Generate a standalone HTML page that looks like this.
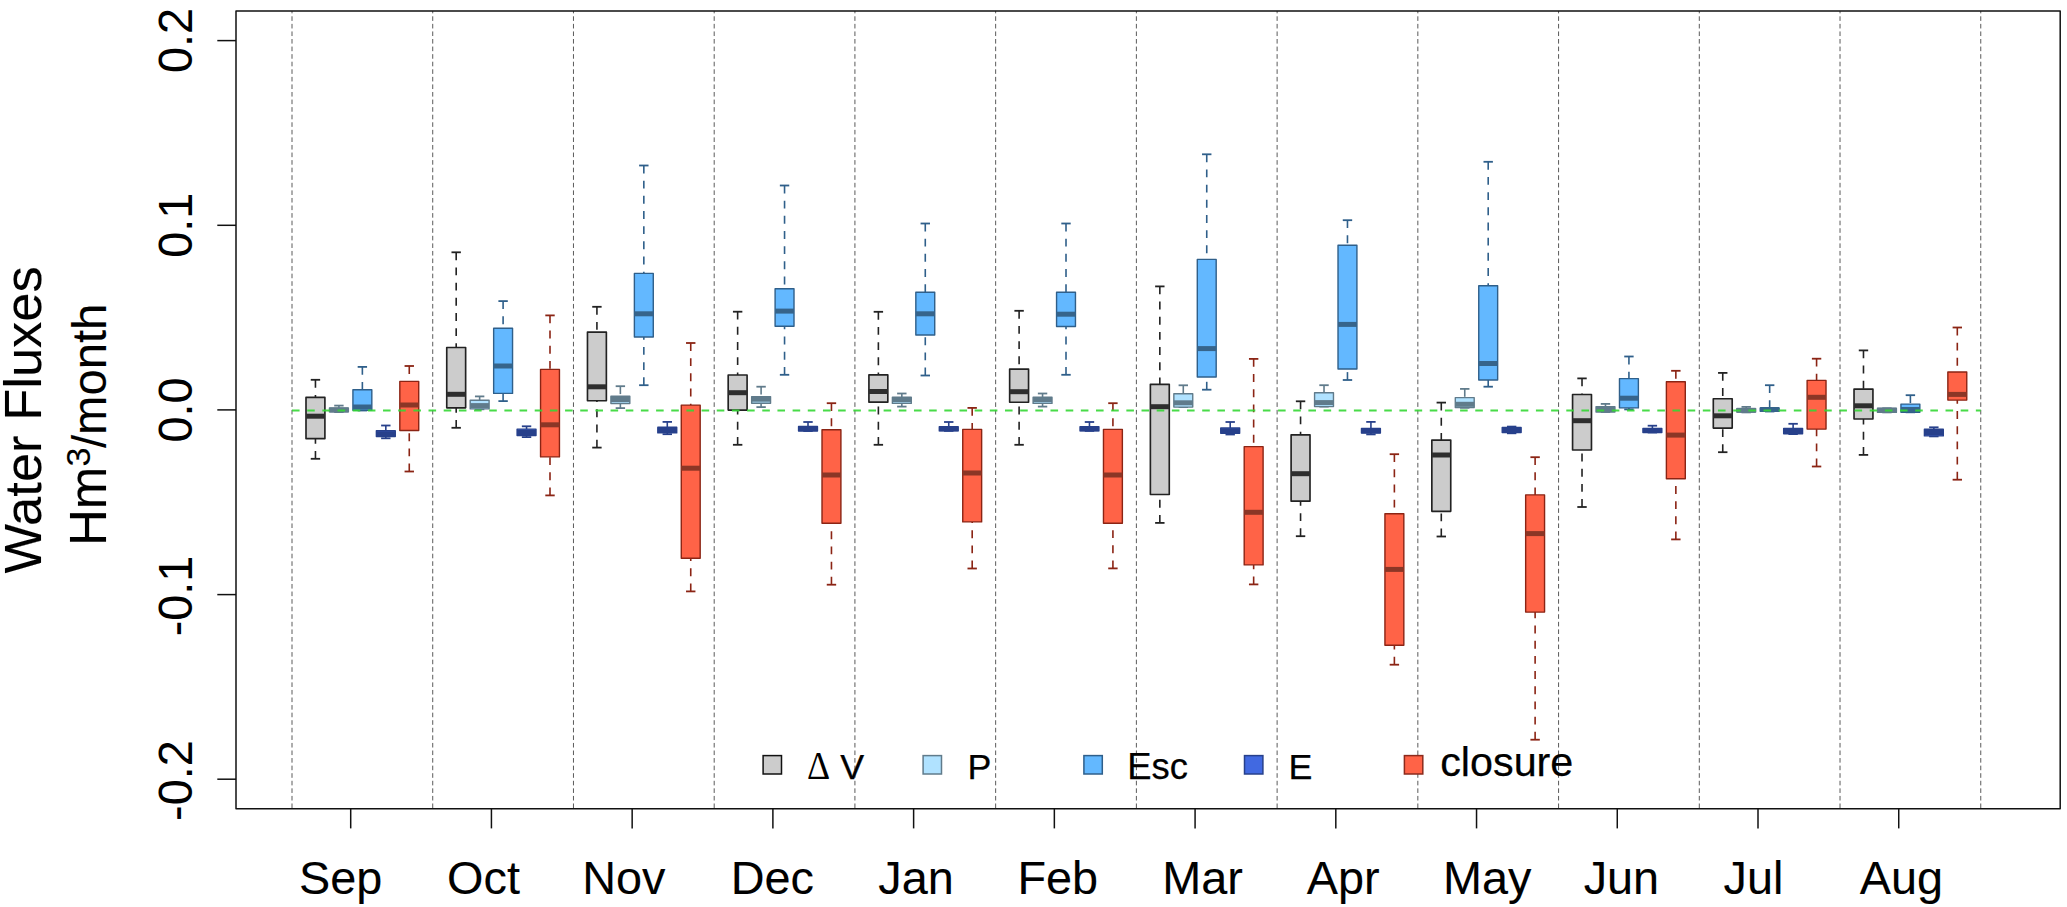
<!DOCTYPE html>
<html lang="en"><head><meta charset="utf-8"><title>Water Fluxes boxplot</title>
<style>html,body{margin:0;padding:0;background:#fff}svg{display:block}</style></head>
<body>
<svg width="2067" height="907" viewBox="0 0 2067 907" font-family="'Liberation Sans', Arial, sans-serif" fill="#000">
<rect width="2067" height="907" fill="#fff"/>
<g stroke="#5a5a5a" stroke-width="1" stroke-dasharray="4.6 2.969" stroke-dashoffset="2.269" fill="none">
<line x1="292.00" y1="11.0" x2="292.00" y2="808.7"/>
<line x1="432.73" y1="11.0" x2="432.73" y2="808.7"/>
<line x1="573.46" y1="11.0" x2="573.46" y2="808.7"/>
<line x1="714.19" y1="11.0" x2="714.19" y2="808.7"/>
<line x1="854.92" y1="11.0" x2="854.92" y2="808.7"/>
<line x1="995.65" y1="11.0" x2="995.65" y2="808.7"/>
<line x1="1136.38" y1="11.0" x2="1136.38" y2="808.7"/>
<line x1="1277.11" y1="11.0" x2="1277.11" y2="808.7"/>
<line x1="1417.84" y1="11.0" x2="1417.84" y2="808.7"/>
<line x1="1558.57" y1="11.0" x2="1558.57" y2="808.7"/>
<line x1="1699.30" y1="11.0" x2="1699.30" y2="808.7"/>
<line x1="1840.03" y1="11.0" x2="1840.03" y2="808.7"/>
<line x1="1980.76" y1="11.0" x2="1980.76" y2="808.7"/>
</g>
<g stroke="#222222" stroke-width="1.6" fill="none">
<line x1="315.45" y1="379.8" x2="315.45" y2="397.4" stroke-dasharray="7.9 7.27"/>
<line x1="315.45" y1="458.8" x2="315.45" y2="438.7" stroke-dasharray="7.9 7.27"/>
<line x1="310.75" y1="379.8" x2="320.15" y2="379.8" stroke-width="1.8"/>
<line x1="310.75" y1="458.8" x2="320.15" y2="458.8" stroke-width="1.8"/>
<rect x="306.00" y="397.4" width="18.9" height="41.30" fill="#cccccc" stroke-width="1.65" stroke-linejoin="round"/>
<line x1="306.00" y1="416.2" x2="324.90" y2="416.2" stroke="#2e2e2e" stroke-width="5"/>
</g>
<g stroke="#607b8b" stroke-width="1.6" fill="none">
<line x1="338.91" y1="405.6" x2="338.91" y2="407.9" stroke-dasharray="7.9 7.27"/>
<line x1="334.21" y1="405.6" x2="343.61" y2="405.6" stroke-width="1.8"/>
<line x1="334.21" y1="412.1" x2="343.61" y2="412.1" stroke-width="1.8"/>
<rect x="329.46" y="407.9" width="18.9" height="4.00" fill="#b0e2ff" stroke-width="1.4" stroke-linejoin="round"/>
<line x1="329.46" y1="410" x2="348.36" y2="410" stroke="#607b8b" stroke-width="5"/>
</g>
<g stroke="#2f5f8a" stroke-width="1.6" fill="none">
<line x1="362.37" y1="366.9" x2="362.37" y2="389.8" stroke-dasharray="7.9 7.27"/>
<line x1="357.67" y1="366.9" x2="367.06" y2="366.9" stroke-width="1.8"/>
<line x1="357.67" y1="410.5" x2="367.06" y2="410.5" stroke-width="1.8"/>
<rect x="352.92" y="389.8" width="18.9" height="20.50" fill="#63b8ff" stroke-width="1.4" stroke-linejoin="round"/>
<line x1="352.92" y1="407" x2="371.81" y2="407" stroke="#36648b" stroke-width="5"/>
</g>
<g stroke="#27408b" stroke-width="1.6" fill="none">
<line x1="385.82" y1="425.5" x2="385.82" y2="430.8" stroke-dasharray="7.9 7.27"/>
<line x1="385.82" y1="438.3" x2="385.82" y2="436.5" stroke-dasharray="7.9 7.27"/>
<line x1="381.12" y1="425.5" x2="390.52" y2="425.5" stroke-width="1.8"/>
<line x1="381.12" y1="438.3" x2="390.52" y2="438.3" stroke-width="1.8"/>
<rect x="376.37" y="430.8" width="18.9" height="5.70" fill="#4169e1" stroke-width="1.4" stroke-linejoin="round"/>
<line x1="376.37" y1="433.8" x2="395.27" y2="433.8" stroke="#27408b" stroke-width="5"/>
</g>
<g stroke="#8b2414" stroke-width="1.6" fill="none">
<line x1="409.27" y1="366" x2="409.27" y2="381.4" stroke-dasharray="7.9 7.27"/>
<line x1="409.27" y1="471.5" x2="409.27" y2="430.5" stroke-dasharray="7.9 7.27"/>
<line x1="404.57" y1="366" x2="413.97" y2="366" stroke-width="1.8"/>
<line x1="404.57" y1="471.5" x2="413.97" y2="471.5" stroke-width="1.8"/>
<rect x="399.82" y="381.4" width="18.9" height="49.10" fill="#ff6347" stroke-width="1.4" stroke-linejoin="round"/>
<line x1="399.82" y1="405" x2="418.72" y2="405" stroke="#8b3626" stroke-width="5"/>
</g>
<g stroke="#222222" stroke-width="1.6" fill="none">
<line x1="456.19" y1="252.3" x2="456.19" y2="347.5" stroke-dasharray="7.9 7.27"/>
<line x1="456.19" y1="427.8" x2="456.19" y2="407.8" stroke-dasharray="7.9 7.27"/>
<line x1="451.49" y1="252.3" x2="460.88" y2="252.3" stroke-width="1.8"/>
<line x1="451.49" y1="427.8" x2="460.88" y2="427.8" stroke-width="1.8"/>
<rect x="446.74" y="347.5" width="18.9" height="60.30" fill="#cccccc" stroke-width="1.65" stroke-linejoin="round"/>
<line x1="446.74" y1="394.3" x2="465.63" y2="394.3" stroke="#2e2e2e" stroke-width="5"/>
</g>
<g stroke="#607b8b" stroke-width="1.6" fill="none">
<line x1="479.64" y1="396.4" x2="479.64" y2="400.2" stroke-dasharray="7.9 7.27"/>
<line x1="479.64" y1="409.3" x2="479.64" y2="408.9" stroke-dasharray="7.9 7.27"/>
<line x1="474.94" y1="396.4" x2="484.34" y2="396.4" stroke-width="1.8"/>
<line x1="474.94" y1="409.3" x2="484.34" y2="409.3" stroke-width="1.8"/>
<rect x="470.19" y="400.2" width="18.9" height="8.70" fill="#b0e2ff" stroke-width="1.4" stroke-linejoin="round"/>
<line x1="470.19" y1="405.6" x2="489.09" y2="405.6" stroke="#607b8b" stroke-width="5"/>
</g>
<g stroke="#2f5f8a" stroke-width="1.6" fill="none">
<line x1="503.10" y1="301.1" x2="503.10" y2="328.3" stroke-dasharray="7.9 7.27"/>
<line x1="503.10" y1="401.1" x2="503.10" y2="393.4" stroke-dasharray="7.9 7.27"/>
<line x1="498.40" y1="301.1" x2="507.80" y2="301.1" stroke-width="1.8"/>
<line x1="498.40" y1="401.1" x2="507.80" y2="401.1" stroke-width="1.8"/>
<rect x="493.65" y="328.3" width="18.9" height="65.10" fill="#63b8ff" stroke-width="1.4" stroke-linejoin="round"/>
<line x1="493.65" y1="366" x2="512.55" y2="366" stroke="#36648b" stroke-width="5"/>
</g>
<g stroke="#27408b" stroke-width="1.6" fill="none">
<line x1="526.55" y1="426.3" x2="526.55" y2="429.1" stroke-dasharray="7.9 7.27"/>
<line x1="526.55" y1="437.1" x2="526.55" y2="435.6" stroke-dasharray="7.9 7.27"/>
<line x1="521.85" y1="426.3" x2="531.25" y2="426.3" stroke-width="1.8"/>
<line x1="521.85" y1="437.1" x2="531.25" y2="437.1" stroke-width="1.8"/>
<rect x="517.10" y="429.1" width="18.9" height="6.50" fill="#4169e1" stroke-width="1.4" stroke-linejoin="round"/>
<line x1="517.10" y1="432.5" x2="536.00" y2="432.5" stroke="#27408b" stroke-width="5"/>
</g>
<g stroke="#8b2414" stroke-width="1.6" fill="none">
<line x1="550.00" y1="315.4" x2="550.00" y2="369.4" stroke-dasharray="7.9 7.27"/>
<line x1="550.00" y1="495.4" x2="550.00" y2="456.9" stroke-dasharray="7.9 7.27"/>
<line x1="545.30" y1="315.4" x2="554.71" y2="315.4" stroke-width="1.8"/>
<line x1="545.30" y1="495.4" x2="554.71" y2="495.4" stroke-width="1.8"/>
<rect x="540.55" y="369.4" width="18.9" height="87.50" fill="#ff6347" stroke-width="1.4" stroke-linejoin="round"/>
<line x1="540.55" y1="424.8" x2="559.46" y2="424.8" stroke="#8b3626" stroke-width="5"/>
</g>
<g stroke="#222222" stroke-width="1.6" fill="none">
<line x1="596.92" y1="306.8" x2="596.92" y2="332.1" stroke-dasharray="7.9 7.27"/>
<line x1="596.92" y1="447.6" x2="596.92" y2="400.7" stroke-dasharray="7.9 7.27"/>
<line x1="592.22" y1="306.8" x2="601.62" y2="306.8" stroke-width="1.8"/>
<line x1="592.22" y1="447.6" x2="601.62" y2="447.6" stroke-width="1.8"/>
<rect x="587.47" y="332.1" width="18.9" height="68.60" fill="#cccccc" stroke-width="1.65" stroke-linejoin="round"/>
<line x1="587.47" y1="386.8" x2="606.37" y2="386.8" stroke="#2e2e2e" stroke-width="5"/>
</g>
<g stroke="#607b8b" stroke-width="1.6" fill="none">
<line x1="620.37" y1="386.2" x2="620.37" y2="396.2" stroke-dasharray="7.9 7.27"/>
<line x1="620.37" y1="408.1" x2="620.37" y2="403.5" stroke-dasharray="7.9 7.27"/>
<line x1="615.67" y1="386.2" x2="625.07" y2="386.2" stroke-width="1.8"/>
<line x1="615.67" y1="408.1" x2="625.07" y2="408.1" stroke-width="1.8"/>
<rect x="610.92" y="396.2" width="18.9" height="7.30" fill="#b0e2ff" stroke-width="1.4" stroke-linejoin="round"/>
<line x1="610.92" y1="399.5" x2="629.82" y2="399.5" stroke="#607b8b" stroke-width="5"/>
</g>
<g stroke="#2f5f8a" stroke-width="1.6" fill="none">
<line x1="643.83" y1="165.5" x2="643.83" y2="273.4" stroke-dasharray="7.9 7.27"/>
<line x1="643.83" y1="385.2" x2="643.83" y2="337" stroke-dasharray="7.9 7.27"/>
<line x1="639.12" y1="165.5" x2="648.53" y2="165.5" stroke-width="1.8"/>
<line x1="639.12" y1="385.2" x2="648.53" y2="385.2" stroke-width="1.8"/>
<rect x="634.38" y="273.4" width="18.9" height="63.60" fill="#63b8ff" stroke-width="1.4" stroke-linejoin="round"/>
<line x1="634.38" y1="313.8" x2="653.28" y2="313.8" stroke="#36648b" stroke-width="5"/>
</g>
<g stroke="#27408b" stroke-width="1.6" fill="none">
<line x1="667.28" y1="421.9" x2="667.28" y2="427.3" stroke-dasharray="7.9 7.27"/>
<line x1="667.28" y1="434.2" x2="667.28" y2="432.9" stroke-dasharray="7.9 7.27"/>
<line x1="662.58" y1="421.9" x2="671.98" y2="421.9" stroke-width="1.8"/>
<line x1="662.58" y1="434.2" x2="671.98" y2="434.2" stroke-width="1.8"/>
<rect x="657.83" y="427.3" width="18.9" height="5.60" fill="#4169e1" stroke-width="1.4" stroke-linejoin="round"/>
<line x1="657.83" y1="430.5" x2="676.73" y2="430.5" stroke="#27408b" stroke-width="5"/>
</g>
<g stroke="#8b2414" stroke-width="1.6" fill="none">
<line x1="690.74" y1="343" x2="690.74" y2="405.1" stroke-dasharray="7.9 7.27"/>
<line x1="690.74" y1="591.4" x2="690.74" y2="558.3" stroke-dasharray="7.9 7.27"/>
<line x1="686.03" y1="343" x2="695.44" y2="343" stroke-width="1.8"/>
<line x1="686.03" y1="591.4" x2="695.44" y2="591.4" stroke-width="1.8"/>
<rect x="681.28" y="405.1" width="18.9" height="153.20" fill="#ff6347" stroke-width="1.4" stroke-linejoin="round"/>
<line x1="681.28" y1="468.2" x2="700.19" y2="468.2" stroke="#8b3626" stroke-width="5"/>
</g>
<g stroke="#222222" stroke-width="1.6" fill="none">
<line x1="737.64" y1="311.7" x2="737.64" y2="375" stroke-dasharray="7.9 7.27"/>
<line x1="737.64" y1="444.8" x2="737.64" y2="410.1" stroke-dasharray="7.9 7.27"/>
<line x1="732.94" y1="311.7" x2="742.35" y2="311.7" stroke-width="1.8"/>
<line x1="732.94" y1="444.8" x2="742.35" y2="444.8" stroke-width="1.8"/>
<rect x="728.19" y="375" width="18.9" height="35.10" fill="#cccccc" stroke-width="1.65" stroke-linejoin="round"/>
<line x1="728.19" y1="392.7" x2="747.10" y2="392.7" stroke="#2e2e2e" stroke-width="5"/>
</g>
<g stroke="#607b8b" stroke-width="1.6" fill="none">
<line x1="761.10" y1="386.7" x2="761.10" y2="396.6" stroke-dasharray="7.9 7.27"/>
<line x1="761.10" y1="407.1" x2="761.10" y2="403.2" stroke-dasharray="7.9 7.27"/>
<line x1="756.40" y1="386.7" x2="765.80" y2="386.7" stroke-width="1.8"/>
<line x1="756.40" y1="407.1" x2="765.80" y2="407.1" stroke-width="1.8"/>
<rect x="751.65" y="396.6" width="18.9" height="6.60" fill="#b0e2ff" stroke-width="1.4" stroke-linejoin="round"/>
<line x1="751.65" y1="399.2" x2="770.55" y2="399.2" stroke="#607b8b" stroke-width="5"/>
</g>
<g stroke="#2f5f8a" stroke-width="1.6" fill="none">
<line x1="784.55" y1="185.5" x2="784.55" y2="288.7" stroke-dasharray="7.9 7.27"/>
<line x1="784.55" y1="374.8" x2="784.55" y2="326.3" stroke-dasharray="7.9 7.27"/>
<line x1="779.85" y1="185.5" x2="789.25" y2="185.5" stroke-width="1.8"/>
<line x1="779.85" y1="374.8" x2="789.25" y2="374.8" stroke-width="1.8"/>
<rect x="775.10" y="288.7" width="18.9" height="37.60" fill="#63b8ff" stroke-width="1.4" stroke-linejoin="round"/>
<line x1="775.10" y1="311.1" x2="794.00" y2="311.1" stroke="#36648b" stroke-width="5"/>
</g>
<g stroke="#27408b" stroke-width="1.6" fill="none">
<line x1="808.01" y1="422" x2="808.01" y2="426.4" stroke-dasharray="7.9 7.27"/>
<line x1="803.31" y1="422" x2="812.71" y2="422" stroke-width="1.8"/>
<line x1="803.31" y1="431" x2="812.71" y2="431" stroke-width="1.8"/>
<rect x="798.56" y="426.4" width="18.9" height="4.60" fill="#4169e1" stroke-width="1.4" stroke-linejoin="round"/>
<line x1="798.56" y1="428.6" x2="817.46" y2="428.6" stroke="#27408b" stroke-width="5"/>
</g>
<g stroke="#8b2414" stroke-width="1.6" fill="none">
<line x1="831.46" y1="403.2" x2="831.46" y2="429.7" stroke-dasharray="7.9 7.27"/>
<line x1="831.46" y1="584.7" x2="831.46" y2="523.2" stroke-dasharray="7.9 7.27"/>
<line x1="826.76" y1="403.2" x2="836.16" y2="403.2" stroke-width="1.8"/>
<line x1="826.76" y1="584.7" x2="836.16" y2="584.7" stroke-width="1.8"/>
<rect x="822.01" y="429.7" width="18.9" height="93.50" fill="#ff6347" stroke-width="1.4" stroke-linejoin="round"/>
<line x1="822.01" y1="475" x2="840.91" y2="475" stroke="#8b3626" stroke-width="5"/>
</g>
<g stroke="#222222" stroke-width="1.6" fill="none">
<line x1="878.38" y1="311.8" x2="878.38" y2="374.9" stroke-dasharray="7.9 7.27"/>
<line x1="878.38" y1="444.8" x2="878.38" y2="402.2" stroke-dasharray="7.9 7.27"/>
<line x1="873.67" y1="311.8" x2="883.08" y2="311.8" stroke-width="1.8"/>
<line x1="873.67" y1="444.8" x2="883.08" y2="444.8" stroke-width="1.8"/>
<rect x="868.92" y="374.9" width="18.9" height="27.30" fill="#cccccc" stroke-width="1.65" stroke-linejoin="round"/>
<line x1="868.92" y1="391.5" x2="887.83" y2="391.5" stroke="#2e2e2e" stroke-width="5"/>
</g>
<g stroke="#607b8b" stroke-width="1.6" fill="none">
<line x1="901.83" y1="393.5" x2="901.83" y2="397.2" stroke-dasharray="7.9 7.27"/>
<line x1="901.83" y1="406.6" x2="901.83" y2="403.4" stroke-dasharray="7.9 7.27"/>
<line x1="897.13" y1="393.5" x2="906.53" y2="393.5" stroke-width="1.8"/>
<line x1="897.13" y1="406.6" x2="906.53" y2="406.6" stroke-width="1.8"/>
<rect x="892.38" y="397.2" width="18.9" height="6.20" fill="#b0e2ff" stroke-width="1.4" stroke-linejoin="round"/>
<line x1="892.38" y1="399.7" x2="911.28" y2="399.7" stroke="#607b8b" stroke-width="5"/>
</g>
<g stroke="#2f5f8a" stroke-width="1.6" fill="none">
<line x1="925.28" y1="223.5" x2="925.28" y2="292.3" stroke-dasharray="7.9 7.27"/>
<line x1="925.28" y1="375.5" x2="925.28" y2="335" stroke-dasharray="7.9 7.27"/>
<line x1="920.58" y1="223.5" x2="929.99" y2="223.5" stroke-width="1.8"/>
<line x1="920.58" y1="375.5" x2="929.99" y2="375.5" stroke-width="1.8"/>
<rect x="915.83" y="292.3" width="18.9" height="42.70" fill="#63b8ff" stroke-width="1.4" stroke-linejoin="round"/>
<line x1="915.83" y1="313.8" x2="934.74" y2="313.8" stroke="#36648b" stroke-width="5"/>
</g>
<g stroke="#27408b" stroke-width="1.6" fill="none">
<line x1="948.74" y1="422" x2="948.74" y2="426.7" stroke-dasharray="7.9 7.27"/>
<line x1="944.04" y1="422" x2="953.44" y2="422" stroke-width="1.8"/>
<line x1="944.04" y1="430.9" x2="953.44" y2="430.9" stroke-width="1.8"/>
<rect x="939.29" y="426.7" width="18.9" height="4.20" fill="#4169e1" stroke-width="1.4" stroke-linejoin="round"/>
<line x1="939.29" y1="428.8" x2="958.19" y2="428.8" stroke="#27408b" stroke-width="5"/>
</g>
<g stroke="#8b2414" stroke-width="1.6" fill="none">
<line x1="972.19" y1="407.9" x2="972.19" y2="429.4" stroke-dasharray="7.9 7.27"/>
<line x1="972.19" y1="568.5" x2="972.19" y2="521.9" stroke-dasharray="7.9 7.27"/>
<line x1="967.49" y1="407.9" x2="976.89" y2="407.9" stroke-width="1.8"/>
<line x1="967.49" y1="568.5" x2="976.89" y2="568.5" stroke-width="1.8"/>
<rect x="962.74" y="429.4" width="18.9" height="92.50" fill="#ff6347" stroke-width="1.4" stroke-linejoin="round"/>
<line x1="962.74" y1="473" x2="981.64" y2="473" stroke="#8b3626" stroke-width="5"/>
</g>
<g stroke="#222222" stroke-width="1.6" fill="none">
<line x1="1019.11" y1="310.8" x2="1019.11" y2="369.1" stroke-dasharray="7.9 7.27"/>
<line x1="1019.11" y1="444.8" x2="1019.11" y2="402.2" stroke-dasharray="7.9 7.27"/>
<line x1="1014.40" y1="310.8" x2="1023.81" y2="310.8" stroke-width="1.8"/>
<line x1="1014.40" y1="444.8" x2="1023.81" y2="444.8" stroke-width="1.8"/>
<rect x="1009.65" y="369.1" width="18.9" height="33.10" fill="#cccccc" stroke-width="1.65" stroke-linejoin="round"/>
<line x1="1009.65" y1="391.7" x2="1028.56" y2="391.7" stroke="#2e2e2e" stroke-width="5"/>
</g>
<g stroke="#607b8b" stroke-width="1.6" fill="none">
<line x1="1042.56" y1="393.5" x2="1042.56" y2="397.2" stroke-dasharray="7.9 7.27"/>
<line x1="1042.56" y1="406.6" x2="1042.56" y2="403.4" stroke-dasharray="7.9 7.27"/>
<line x1="1037.86" y1="393.5" x2="1047.26" y2="393.5" stroke-width="1.8"/>
<line x1="1037.86" y1="406.6" x2="1047.26" y2="406.6" stroke-width="1.8"/>
<rect x="1033.11" y="397.2" width="18.9" height="6.20" fill="#b0e2ff" stroke-width="1.4" stroke-linejoin="round"/>
<line x1="1033.11" y1="399.7" x2="1052.01" y2="399.7" stroke="#607b8b" stroke-width="5"/>
</g>
<g stroke="#2f5f8a" stroke-width="1.6" fill="none">
<line x1="1066.01" y1="223.5" x2="1066.01" y2="292.3" stroke-dasharray="7.9 7.27"/>
<line x1="1066.01" y1="374.8" x2="1066.01" y2="326.5" stroke-dasharray="7.9 7.27"/>
<line x1="1061.31" y1="223.5" x2="1070.71" y2="223.5" stroke-width="1.8"/>
<line x1="1061.31" y1="374.8" x2="1070.71" y2="374.8" stroke-width="1.8"/>
<rect x="1056.56" y="292.3" width="18.9" height="34.20" fill="#63b8ff" stroke-width="1.4" stroke-linejoin="round"/>
<line x1="1056.56" y1="314.2" x2="1075.46" y2="314.2" stroke="#36648b" stroke-width="5"/>
</g>
<g stroke="#27408b" stroke-width="1.6" fill="none">
<line x1="1089.47" y1="422" x2="1089.47" y2="426.7" stroke-dasharray="7.9 7.27"/>
<line x1="1084.77" y1="422" x2="1094.17" y2="422" stroke-width="1.8"/>
<line x1="1084.77" y1="430.9" x2="1094.17" y2="430.9" stroke-width="1.8"/>
<rect x="1080.02" y="426.7" width="18.9" height="4.20" fill="#4169e1" stroke-width="1.4" stroke-linejoin="round"/>
<line x1="1080.02" y1="428.8" x2="1098.92" y2="428.8" stroke="#27408b" stroke-width="5"/>
</g>
<g stroke="#8b2414" stroke-width="1.6" fill="none">
<line x1="1112.92" y1="403.2" x2="1112.92" y2="429.4" stroke-dasharray="7.9 7.27"/>
<line x1="1112.92" y1="568.4" x2="1112.92" y2="523.2" stroke-dasharray="7.9 7.27"/>
<line x1="1108.22" y1="403.2" x2="1117.62" y2="403.2" stroke-width="1.8"/>
<line x1="1108.22" y1="568.4" x2="1117.62" y2="568.4" stroke-width="1.8"/>
<rect x="1103.47" y="429.4" width="18.9" height="93.80" fill="#ff6347" stroke-width="1.4" stroke-linejoin="round"/>
<line x1="1103.47" y1="475" x2="1122.38" y2="475" stroke="#8b3626" stroke-width="5"/>
</g>
<g stroke="#222222" stroke-width="1.6" fill="none">
<line x1="1159.83" y1="286.4" x2="1159.83" y2="384.3" stroke-dasharray="7.9 7.27"/>
<line x1="1159.83" y1="522.9" x2="1159.83" y2="494.5" stroke-dasharray="7.9 7.27"/>
<line x1="1155.13" y1="286.4" x2="1164.53" y2="286.4" stroke-width="1.8"/>
<line x1="1155.13" y1="522.9" x2="1164.53" y2="522.9" stroke-width="1.8"/>
<rect x="1150.38" y="384.3" width="18.9" height="110.20" fill="#cccccc" stroke-width="1.65" stroke-linejoin="round"/>
<line x1="1150.38" y1="406.7" x2="1169.28" y2="406.7" stroke="#2e2e2e" stroke-width="5"/>
</g>
<g stroke="#607b8b" stroke-width="1.6" fill="none">
<line x1="1183.29" y1="385.3" x2="1183.29" y2="393.7" stroke-dasharray="7.9 7.27"/>
<line x1="1178.59" y1="385.3" x2="1187.99" y2="385.3" stroke-width="1.8"/>
<line x1="1178.59" y1="407.1" x2="1187.99" y2="407.1" stroke-width="1.8"/>
<rect x="1173.84" y="393.7" width="18.9" height="13.40" fill="#b0e2ff" stroke-width="1.4" stroke-linejoin="round"/>
<line x1="1173.84" y1="402.8" x2="1192.74" y2="402.8" stroke="#607b8b" stroke-width="5"/>
</g>
<g stroke="#2f5f8a" stroke-width="1.6" fill="none">
<line x1="1206.74" y1="154.3" x2="1206.74" y2="259.4" stroke-dasharray="7.9 7.27"/>
<line x1="1206.74" y1="389.7" x2="1206.74" y2="377" stroke-dasharray="7.9 7.27"/>
<line x1="1202.04" y1="154.3" x2="1211.44" y2="154.3" stroke-width="1.8"/>
<line x1="1202.04" y1="389.7" x2="1211.44" y2="389.7" stroke-width="1.8"/>
<rect x="1197.29" y="259.4" width="18.9" height="117.60" fill="#63b8ff" stroke-width="1.4" stroke-linejoin="round"/>
<line x1="1197.29" y1="348.6" x2="1216.19" y2="348.6" stroke="#36648b" stroke-width="5"/>
</g>
<g stroke="#27408b" stroke-width="1.6" fill="none">
<line x1="1230.20" y1="422" x2="1230.20" y2="428" stroke-dasharray="7.9 7.27"/>
<line x1="1230.20" y1="434.5" x2="1230.20" y2="433.3" stroke-dasharray="7.9 7.27"/>
<line x1="1225.50" y1="422" x2="1234.90" y2="422" stroke-width="1.8"/>
<line x1="1225.50" y1="434.5" x2="1234.90" y2="434.5" stroke-width="1.8"/>
<rect x="1220.75" y="428" width="18.9" height="5.30" fill="#4169e1" stroke-width="1.4" stroke-linejoin="round"/>
<line x1="1220.75" y1="431" x2="1239.65" y2="431" stroke="#27408b" stroke-width="5"/>
</g>
<g stroke="#8b2414" stroke-width="1.6" fill="none">
<line x1="1253.65" y1="358.9" x2="1253.65" y2="446.6" stroke-dasharray="7.9 7.27"/>
<line x1="1253.65" y1="584.4" x2="1253.65" y2="564.9" stroke-dasharray="7.9 7.27"/>
<line x1="1248.95" y1="358.9" x2="1258.36" y2="358.9" stroke-width="1.8"/>
<line x1="1248.95" y1="584.4" x2="1258.36" y2="584.4" stroke-width="1.8"/>
<rect x="1244.20" y="446.6" width="18.9" height="118.30" fill="#ff6347" stroke-width="1.4" stroke-linejoin="round"/>
<line x1="1244.20" y1="512.3" x2="1263.11" y2="512.3" stroke="#8b3626" stroke-width="5"/>
</g>
<g stroke="#222222" stroke-width="1.6" fill="none">
<line x1="1300.56" y1="401.3" x2="1300.56" y2="434.8" stroke-dasharray="7.9 7.27"/>
<line x1="1300.56" y1="536.2" x2="1300.56" y2="501.2" stroke-dasharray="7.9 7.27"/>
<line x1="1295.86" y1="401.3" x2="1305.26" y2="401.3" stroke-width="1.8"/>
<line x1="1295.86" y1="536.2" x2="1305.26" y2="536.2" stroke-width="1.8"/>
<rect x="1291.11" y="434.8" width="18.9" height="66.40" fill="#cccccc" stroke-width="1.65" stroke-linejoin="round"/>
<line x1="1291.11" y1="473.7" x2="1310.01" y2="473.7" stroke="#2e2e2e" stroke-width="5"/>
</g>
<g stroke="#607b8b" stroke-width="1.6" fill="none">
<line x1="1324.02" y1="385.2" x2="1324.02" y2="392.7" stroke-dasharray="7.9 7.27"/>
<line x1="1319.32" y1="385.2" x2="1328.72" y2="385.2" stroke-width="1.8"/>
<line x1="1319.32" y1="406.6" x2="1328.72" y2="406.6" stroke-width="1.8"/>
<rect x="1314.57" y="392.7" width="18.9" height="13.90" fill="#b0e2ff" stroke-width="1.4" stroke-linejoin="round"/>
<line x1="1314.57" y1="402.6" x2="1333.47" y2="402.6" stroke="#607b8b" stroke-width="5"/>
</g>
<g stroke="#2f5f8a" stroke-width="1.6" fill="none">
<line x1="1347.47" y1="220.2" x2="1347.47" y2="245.2" stroke-dasharray="7.9 7.27"/>
<line x1="1347.47" y1="380" x2="1347.47" y2="369" stroke-dasharray="7.9 7.27"/>
<line x1="1342.77" y1="220.2" x2="1352.17" y2="220.2" stroke-width="1.8"/>
<line x1="1342.77" y1="380" x2="1352.17" y2="380" stroke-width="1.8"/>
<rect x="1338.02" y="245.2" width="18.9" height="123.80" fill="#63b8ff" stroke-width="1.4" stroke-linejoin="round"/>
<line x1="1338.02" y1="324.4" x2="1356.92" y2="324.4" stroke="#36648b" stroke-width="5"/>
</g>
<g stroke="#27408b" stroke-width="1.6" fill="none">
<line x1="1370.93" y1="421.9" x2="1370.93" y2="428.5" stroke-dasharray="7.9 7.27"/>
<line x1="1370.93" y1="434.4" x2="1370.93" y2="433" stroke-dasharray="7.9 7.27"/>
<line x1="1366.23" y1="421.9" x2="1375.63" y2="421.9" stroke-width="1.8"/>
<line x1="1366.23" y1="434.4" x2="1375.63" y2="434.4" stroke-width="1.8"/>
<rect x="1361.48" y="428.5" width="18.9" height="4.50" fill="#4169e1" stroke-width="1.4" stroke-linejoin="round"/>
<line x1="1361.48" y1="430.8" x2="1380.38" y2="430.8" stroke="#27408b" stroke-width="5"/>
</g>
<g stroke="#8b2414" stroke-width="1.6" fill="none">
<line x1="1394.38" y1="454.2" x2="1394.38" y2="513.8" stroke-dasharray="7.9 7.27"/>
<line x1="1394.38" y1="664.7" x2="1394.38" y2="645.2" stroke-dasharray="7.9 7.27"/>
<line x1="1389.68" y1="454.2" x2="1399.09" y2="454.2" stroke-width="1.8"/>
<line x1="1389.68" y1="664.7" x2="1399.09" y2="664.7" stroke-width="1.8"/>
<rect x="1384.93" y="513.8" width="18.9" height="131.40" fill="#ff6347" stroke-width="1.4" stroke-linejoin="round"/>
<line x1="1384.93" y1="569.4" x2="1403.84" y2="569.4" stroke="#8b3626" stroke-width="5"/>
</g>
<g stroke="#222222" stroke-width="1.6" fill="none">
<line x1="1441.29" y1="402.6" x2="1441.29" y2="440.1" stroke-dasharray="7.9 7.27"/>
<line x1="1441.29" y1="536.5" x2="1441.29" y2="511.3" stroke-dasharray="7.9 7.27"/>
<line x1="1436.59" y1="402.6" x2="1445.99" y2="402.6" stroke-width="1.8"/>
<line x1="1436.59" y1="536.5" x2="1445.99" y2="536.5" stroke-width="1.8"/>
<rect x="1431.84" y="440.1" width="18.9" height="71.20" fill="#cccccc" stroke-width="1.65" stroke-linejoin="round"/>
<line x1="1431.84" y1="455" x2="1450.74" y2="455" stroke="#2e2e2e" stroke-width="5"/>
</g>
<g stroke="#607b8b" stroke-width="1.6" fill="none">
<line x1="1464.75" y1="388.9" x2="1464.75" y2="397.6" stroke-dasharray="7.9 7.27"/>
<line x1="1464.75" y1="407.8" x2="1464.75" y2="407.5" stroke-dasharray="7.9 7.27"/>
<line x1="1460.05" y1="388.9" x2="1469.45" y2="388.9" stroke-width="1.8"/>
<line x1="1460.05" y1="407.8" x2="1469.45" y2="407.8" stroke-width="1.8"/>
<rect x="1455.30" y="397.6" width="18.9" height="9.90" fill="#b0e2ff" stroke-width="1.4" stroke-linejoin="round"/>
<line x1="1455.30" y1="404.3" x2="1474.20" y2="404.3" stroke="#607b8b" stroke-width="5"/>
</g>
<g stroke="#2f5f8a" stroke-width="1.6" fill="none">
<line x1="1488.20" y1="161.8" x2="1488.20" y2="285.8" stroke-dasharray="7.9 7.27"/>
<line x1="1488.20" y1="386.7" x2="1488.20" y2="380" stroke-dasharray="7.9 7.27"/>
<line x1="1483.50" y1="161.8" x2="1492.90" y2="161.8" stroke-width="1.8"/>
<line x1="1483.50" y1="386.7" x2="1492.90" y2="386.7" stroke-width="1.8"/>
<rect x="1478.75" y="285.8" width="18.9" height="94.20" fill="#63b8ff" stroke-width="1.4" stroke-linejoin="round"/>
<line x1="1478.75" y1="363.5" x2="1497.65" y2="363.5" stroke="#36648b" stroke-width="5"/>
</g>
<g stroke="#27408b" stroke-width="1.6" fill="none">
<line x1="1511.66" y1="426.6" x2="1511.66" y2="427.4" stroke-dasharray="7.9 7.27"/>
<line x1="1511.66" y1="433.3" x2="1511.66" y2="432.5" stroke-dasharray="7.9 7.27"/>
<line x1="1506.96" y1="426.6" x2="1516.36" y2="426.6" stroke-width="1.8"/>
<line x1="1506.96" y1="433.3" x2="1516.36" y2="433.3" stroke-width="1.8"/>
<rect x="1502.21" y="427.4" width="18.9" height="5.10" fill="#4169e1" stroke-width="1.4" stroke-linejoin="round"/>
<line x1="1502.21" y1="430" x2="1521.11" y2="430" stroke="#27408b" stroke-width="5"/>
</g>
<g stroke="#8b2414" stroke-width="1.6" fill="none">
<line x1="1535.12" y1="457.2" x2="1535.12" y2="494.9" stroke-dasharray="7.9 7.27"/>
<line x1="1535.12" y1="739.7" x2="1535.12" y2="612.1" stroke-dasharray="7.9 7.27"/>
<line x1="1530.41" y1="457.2" x2="1539.82" y2="457.2" stroke-width="1.8"/>
<line x1="1530.41" y1="739.7" x2="1539.82" y2="739.7" stroke-width="1.8"/>
<rect x="1525.66" y="494.9" width="18.9" height="117.20" fill="#ff6347" stroke-width="1.4" stroke-linejoin="round"/>
<line x1="1525.66" y1="533.6" x2="1544.57" y2="533.6" stroke="#8b3626" stroke-width="5"/>
</g>
<g stroke="#222222" stroke-width="1.6" fill="none">
<line x1="1582.02" y1="378.4" x2="1582.02" y2="394.5" stroke-dasharray="7.9 7.27"/>
<line x1="1582.02" y1="507" x2="1582.02" y2="450" stroke-dasharray="7.9 7.27"/>
<line x1="1577.32" y1="378.4" x2="1586.72" y2="378.4" stroke-width="1.8"/>
<line x1="1577.32" y1="507" x2="1586.72" y2="507" stroke-width="1.8"/>
<rect x="1572.57" y="394.5" width="18.9" height="55.50" fill="#cccccc" stroke-width="1.65" stroke-linejoin="round"/>
<line x1="1572.57" y1="420.7" x2="1591.47" y2="420.7" stroke="#2e2e2e" stroke-width="5"/>
</g>
<g stroke="#607b8b" stroke-width="1.6" fill="none">
<line x1="1605.48" y1="403.9" x2="1605.48" y2="406.8" stroke-dasharray="7.9 7.27"/>
<line x1="1600.78" y1="403.9" x2="1610.18" y2="403.9" stroke-width="1.8"/>
<line x1="1600.78" y1="412.1" x2="1610.18" y2="412.1" stroke-width="1.8"/>
<rect x="1596.03" y="406.8" width="18.9" height="5.30" fill="#b0e2ff" stroke-width="1.4" stroke-linejoin="round"/>
<line x1="1596.03" y1="409.5" x2="1614.93" y2="409.5" stroke="#607b8b" stroke-width="5"/>
</g>
<g stroke="#2f5f8a" stroke-width="1.6" fill="none">
<line x1="1628.93" y1="356.5" x2="1628.93" y2="378.6" stroke-dasharray="7.9 7.27"/>
<line x1="1628.93" y1="409.4" x2="1628.93" y2="407.9" stroke-dasharray="7.9 7.27"/>
<line x1="1624.23" y1="356.5" x2="1633.63" y2="356.5" stroke-width="1.8"/>
<line x1="1624.23" y1="409.4" x2="1633.63" y2="409.4" stroke-width="1.8"/>
<rect x="1619.48" y="378.6" width="18.9" height="29.30" fill="#63b8ff" stroke-width="1.4" stroke-linejoin="round"/>
<line x1="1619.48" y1="398.2" x2="1638.38" y2="398.2" stroke="#36648b" stroke-width="5"/>
</g>
<g stroke="#27408b" stroke-width="1.6" fill="none">
<line x1="1652.39" y1="425.7" x2="1652.39" y2="428.4" stroke-dasharray="7.9 7.27"/>
<line x1="1647.69" y1="425.7" x2="1657.09" y2="425.7" stroke-width="1.8"/>
<line x1="1647.69" y1="432.5" x2="1657.09" y2="432.5" stroke-width="1.8"/>
<rect x="1642.94" y="428.4" width="18.9" height="4.10" fill="#4169e1" stroke-width="1.4" stroke-linejoin="round"/>
<line x1="1642.94" y1="430.5" x2="1661.84" y2="430.5" stroke="#27408b" stroke-width="5"/>
</g>
<g stroke="#8b2414" stroke-width="1.6" fill="none">
<line x1="1675.85" y1="370.8" x2="1675.85" y2="381.7" stroke-dasharray="7.9 7.27"/>
<line x1="1675.85" y1="539.4" x2="1675.85" y2="478.7" stroke-dasharray="7.9 7.27"/>
<line x1="1671.14" y1="370.8" x2="1680.55" y2="370.8" stroke-width="1.8"/>
<line x1="1671.14" y1="539.4" x2="1680.55" y2="539.4" stroke-width="1.8"/>
<rect x="1666.39" y="381.7" width="18.9" height="97.00" fill="#ff6347" stroke-width="1.4" stroke-linejoin="round"/>
<line x1="1666.39" y1="435.1" x2="1685.30" y2="435.1" stroke="#8b3626" stroke-width="5"/>
</g>
<g stroke="#222222" stroke-width="1.6" fill="none">
<line x1="1722.75" y1="372.9" x2="1722.75" y2="398.7" stroke-dasharray="7.9 7.27"/>
<line x1="1722.75" y1="452.2" x2="1722.75" y2="428.1" stroke-dasharray="7.9 7.27"/>
<line x1="1718.05" y1="372.9" x2="1727.45" y2="372.9" stroke-width="1.8"/>
<line x1="1718.05" y1="452.2" x2="1727.45" y2="452.2" stroke-width="1.8"/>
<rect x="1713.30" y="398.7" width="18.9" height="29.40" fill="#cccccc" stroke-width="1.65" stroke-linejoin="round"/>
<line x1="1713.30" y1="415.8" x2="1732.20" y2="415.8" stroke="#2e2e2e" stroke-width="5"/>
</g>
<g stroke="#607b8b" stroke-width="1.6" fill="none">
<line x1="1746.21" y1="406.9" x2="1746.21" y2="408.6" stroke-dasharray="7.9 7.27"/>
<line x1="1741.51" y1="406.9" x2="1750.91" y2="406.9" stroke-width="1.8"/>
<line x1="1741.51" y1="412.4" x2="1750.91" y2="412.4" stroke-width="1.8"/>
<rect x="1736.76" y="408.6" width="18.9" height="3.50" fill="#b0e2ff" stroke-width="1.4" stroke-linejoin="round"/>
<line x1="1736.76" y1="410.3" x2="1755.66" y2="410.3" stroke="#607b8b" stroke-width="5"/>
</g>
<g stroke="#2f5f8a" stroke-width="1.6" fill="none">
<line x1="1769.66" y1="385.2" x2="1769.66" y2="407.9" stroke-dasharray="7.9 7.27"/>
<line x1="1769.66" y1="411.5" x2="1769.66" y2="411.2" stroke-dasharray="7.9 7.27"/>
<line x1="1764.96" y1="385.2" x2="1774.37" y2="385.2" stroke-width="1.8"/>
<line x1="1764.96" y1="411.5" x2="1774.37" y2="411.5" stroke-width="1.8"/>
<rect x="1760.21" y="407.9" width="18.9" height="3.30" fill="#63b8ff" stroke-width="1.4" stroke-linejoin="round"/>
<line x1="1760.21" y1="409.5" x2="1779.12" y2="409.5" stroke="#36648b" stroke-width="5"/>
</g>
<g stroke="#27408b" stroke-width="1.6" fill="none">
<line x1="1793.12" y1="423.8" x2="1793.12" y2="428.4" stroke-dasharray="7.9 7.27"/>
<line x1="1793.12" y1="434.1" x2="1793.12" y2="433.7" stroke-dasharray="7.9 7.27"/>
<line x1="1788.42" y1="423.8" x2="1797.82" y2="423.8" stroke-width="1.8"/>
<line x1="1788.42" y1="434.1" x2="1797.82" y2="434.1" stroke-width="1.8"/>
<rect x="1783.67" y="428.4" width="18.9" height="5.30" fill="#4169e1" stroke-width="1.4" stroke-linejoin="round"/>
<line x1="1783.67" y1="431" x2="1802.57" y2="431" stroke="#27408b" stroke-width="5"/>
</g>
<g stroke="#8b2414" stroke-width="1.6" fill="none">
<line x1="1816.58" y1="358.7" x2="1816.58" y2="380.4" stroke-dasharray="7.9 7.27"/>
<line x1="1816.58" y1="466.5" x2="1816.58" y2="429.1" stroke-dasharray="7.9 7.27"/>
<line x1="1811.88" y1="358.7" x2="1821.28" y2="358.7" stroke-width="1.8"/>
<line x1="1811.88" y1="466.5" x2="1821.28" y2="466.5" stroke-width="1.8"/>
<rect x="1807.12" y="380.4" width="18.9" height="48.70" fill="#ff6347" stroke-width="1.4" stroke-linejoin="round"/>
<line x1="1807.12" y1="397.3" x2="1826.03" y2="397.3" stroke="#8b3626" stroke-width="5"/>
</g>
<g stroke="#222222" stroke-width="1.6" fill="none">
<line x1="1863.48" y1="350.4" x2="1863.48" y2="389.1" stroke-dasharray="7.9 7.27"/>
<line x1="1863.48" y1="454.9" x2="1863.48" y2="419" stroke-dasharray="7.9 7.27"/>
<line x1="1858.78" y1="350.4" x2="1868.18" y2="350.4" stroke-width="1.8"/>
<line x1="1858.78" y1="454.9" x2="1868.18" y2="454.9" stroke-width="1.8"/>
<rect x="1854.03" y="389.1" width="18.9" height="29.90" fill="#cccccc" stroke-width="1.65" stroke-linejoin="round"/>
<line x1="1854.03" y1="405.8" x2="1872.93" y2="405.8" stroke="#2e2e2e" stroke-width="5"/>
</g>
<g stroke="#607b8b" stroke-width="1.6" fill="none">
<line x1="1882.24" y1="408.3" x2="1891.64" y2="408.3" stroke-width="1.8"/>
<line x1="1882.24" y1="412.4" x2="1891.64" y2="412.4" stroke-width="1.8"/>
<rect x="1877.49" y="408.3" width="18.9" height="4.10" fill="#b0e2ff" stroke-width="1.4" stroke-linejoin="round"/>
<line x1="1877.49" y1="410.3" x2="1896.39" y2="410.3" stroke="#607b8b" stroke-width="5"/>
</g>
<g stroke="#2f5f8a" stroke-width="1.6" fill="none">
<line x1="1910.39" y1="395.2" x2="1910.39" y2="404.1" stroke-dasharray="7.9 7.27"/>
<line x1="1905.69" y1="395.2" x2="1915.10" y2="395.2" stroke-width="1.8"/>
<line x1="1905.69" y1="412.3" x2="1915.10" y2="412.3" stroke-width="1.8"/>
<rect x="1900.94" y="404.1" width="18.9" height="8.20" fill="#63b8ff" stroke-width="1.4" stroke-linejoin="round"/>
<line x1="1900.94" y1="409.5" x2="1919.85" y2="409.5" stroke="#36648b" stroke-width="5"/>
</g>
<g stroke="#27408b" stroke-width="1.6" fill="none">
<line x1="1933.85" y1="427.3" x2="1933.85" y2="429.3" stroke-dasharray="7.9 7.27"/>
<line x1="1933.85" y1="436.4" x2="1933.85" y2="435.9" stroke-dasharray="7.9 7.27"/>
<line x1="1929.15" y1="427.3" x2="1938.55" y2="427.3" stroke-width="1.8"/>
<line x1="1929.15" y1="436.4" x2="1938.55" y2="436.4" stroke-width="1.8"/>
<rect x="1924.40" y="429.3" width="18.9" height="6.60" fill="#4169e1" stroke-width="1.4" stroke-linejoin="round"/>
<line x1="1924.40" y1="432.5" x2="1943.30" y2="432.5" stroke="#27408b" stroke-width="5"/>
</g>
<g stroke="#8b2414" stroke-width="1.6" fill="none">
<line x1="1957.31" y1="327.5" x2="1957.31" y2="372" stroke-dasharray="7.9 7.27"/>
<line x1="1957.31" y1="479.7" x2="1957.31" y2="400.1" stroke-dasharray="7.9 7.27"/>
<line x1="1952.61" y1="327.5" x2="1962.01" y2="327.5" stroke-width="1.8"/>
<line x1="1952.61" y1="479.7" x2="1962.01" y2="479.7" stroke-width="1.8"/>
<rect x="1947.86" y="372" width="18.9" height="28.10" fill="#ff6347" stroke-width="1.4" stroke-linejoin="round"/>
<line x1="1947.86" y1="394.4" x2="1966.76" y2="394.4" stroke="#8b3626" stroke-width="5"/>
</g>
<line x1="292.0" y1="410.5" x2="1980.76" y2="410.5" stroke="#35d835" stroke-width="2" stroke-dasharray="7.585 7.585" opacity="0.9"/>
<g stroke="#111" stroke-width="1.5" fill="none">
<rect x="236.0" y="11.0" width="1824.20" height="797.70" stroke-linejoin="round"/>
<line x1="217.3" y1="40.6" x2="236.0" y2="40.6"/>
<line x1="217.3" y1="225.3" x2="236.0" y2="225.3"/>
<line x1="217.3" y1="409.9" x2="236.0" y2="409.9"/>
<line x1="217.3" y1="594.6" x2="236.0" y2="594.6"/>
<line x1="217.3" y1="779.2" x2="236.0" y2="779.2"/>
<line x1="350.70" y1="808.7" x2="350.70" y2="828.4"/>
<line x1="491.43" y1="808.7" x2="491.43" y2="828.4"/>
<line x1="632.16" y1="808.7" x2="632.16" y2="828.4"/>
<line x1="772.89" y1="808.7" x2="772.89" y2="828.4"/>
<line x1="913.62" y1="808.7" x2="913.62" y2="828.4"/>
<line x1="1054.35" y1="808.7" x2="1054.35" y2="828.4"/>
<line x1="1195.08" y1="808.7" x2="1195.08" y2="828.4"/>
<line x1="1335.81" y1="808.7" x2="1335.81" y2="828.4"/>
<line x1="1476.54" y1="808.7" x2="1476.54" y2="828.4"/>
<line x1="1617.27" y1="808.7" x2="1617.27" y2="828.4"/>
<line x1="1758.00" y1="808.7" x2="1758.00" y2="828.4"/>
<line x1="1898.73" y1="808.7" x2="1898.73" y2="828.4"/>
</g>
<g font-size="46.8" text-anchor="middle">
<text transform="translate(192.4 40.6) rotate(-90) scale(1 1.04)">0.2</text>
<text transform="translate(192.4 225.3) rotate(-90) scale(1 1.04)">0.1</text>
<text transform="translate(192.4 409.9) rotate(-90) scale(1 1.04)">0.0</text>
<text transform="translate(192.4 596.0) rotate(-90) scale(1 1.04)">-0.1</text>
<text transform="translate(192.4 780.6) rotate(-90) scale(1 1.04)">-0.2</text>
</g>
<g font-size="46.8" text-anchor="middle" stroke="#000" stroke-width="0.1">
<text x="340.7" y="894.3">Sep</text>
<text x="483.5" y="894.3">Oct</text>
<text x="623.9" y="894.3">Nov</text>
<text x="772.4" y="894.3">Dec</text>
<text x="916.0" y="894.3">Jan</text>
<text x="1057.7" y="894.3">Feb</text>
<text x="1202.6" y="894.3">Mar</text>
<text x="1343.2" y="894.3">Apr</text>
<text x="1487.2" y="894.3">May</text>
<text x="1621.4" y="894.3">Jun</text>
<text x="1753.5" y="894.3">Jul</text>
<text x="1901.5" y="894.3">Aug</text>
</g>
<g text-anchor="start" stroke="#000" stroke-width="0.1">
<text font-size="52.5" transform="translate(41.3 573.5) rotate(-90)">Water Fluxes</text>
<text font-size="51" transform="translate(105.6 546) rotate(-90)">Hm</text>
<text font-size="34" transform="translate(90.2 466.6) rotate(-90)">3</text>
<text font-size="47.2" transform="translate(105.6 448) rotate(-90)">/month</text>
</g>
<rect x="763.1" y="755.6" width="18.4" height="18.4" fill="#cccccc" stroke="#111" stroke-width="1.5"/>
<rect x="923.1" y="755.6" width="18.4" height="18.4" fill="#b0e2ff" stroke="#607b8b" stroke-width="1.5"/>
<rect x="1083.9" y="755.6" width="18.4" height="18.4" fill="#63b8ff" stroke="#2f5f8a" stroke-width="1.5"/>
<rect x="1244.5" y="755.6" width="18.4" height="18.4" fill="#4169e1" stroke="#27408b" stroke-width="1.5"/>
<rect x="1404.4" y="755.6" width="18.4" height="18.4" fill="#ff6347" stroke="#8b2a1c" stroke-width="1.5"/>
<g font-size="35.8" stroke="#000" stroke-width="0.25">
<text transform="translate(807 779.4) scale(1 1.094)" font-family="'Liberation Serif', serif" font-size="36" stroke="none">Δ</text>
<text x="840.2" y="779.2">V</text>
<text x="967.6" y="779.2">P</text>
<text x="1127.3" y="779.2" font-size="36.4">Esc</text>
<text x="1288.5" y="779.2">E</text>
<text x="1440.2" y="776.3" font-size="41.3">closure</text>
</g>
</svg>
</body></html>
